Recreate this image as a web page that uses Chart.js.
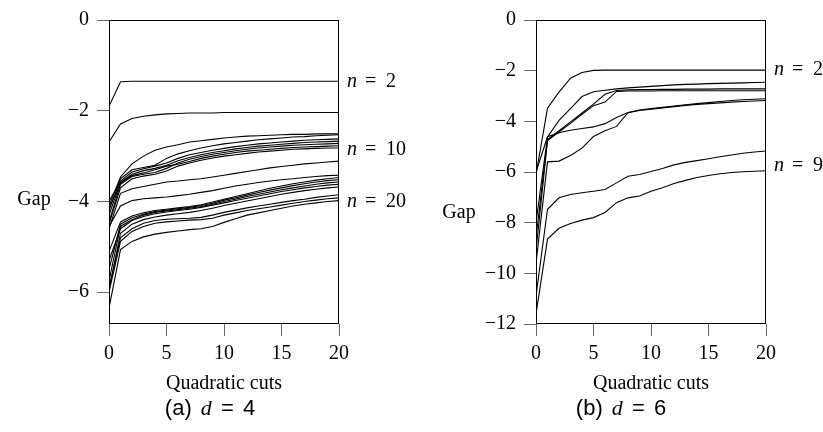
<!DOCTYPE html>
<html>
<head>
<meta charset="utf-8">
<script src="https://cdn.jsdelivr.net/npm/chart.js@4.4.1/dist/chart.umd.min.js"></script>
<style>
    body { margin: 0; background: #fff; width: 823px; height: 432px; position: relative; overflow: hidden; }
    .panel { position: absolute; top: 0; height: 432px; }
    .caption { position: absolute; top: 395px; width: 200px; text-align: center; white-space: nowrap; word-spacing: 3px;
               font: 22px "Liberation Sans Narrow", "Liberation Sans", sans-serif; color: #000; }
    .caption i { font-family: "Liberation Serif", serif; }
</style>
</head>
<body>
<div class="panel" style="left:0;width:412px"><canvas id="chartD4" width="412" height="432"></canvas></div>
<div class="panel" style="left:412px;width:411px"><canvas id="chartD6" width="411" height="432"></canvas></div>
<div class="caption" style="left:110px">(a) <i>d</i> = 4</div>
<div class="caption" style="left:521px">(b) <i>d</i> = 6</div>

<script>
// x values: number of quadratic cuts
const cuts = [0, 1, 2, 3, 4, 5, 6, 7, 8, 9, 10, 11, 12, 13, 14, 15, 16, 17, 18, 19, 20];
const xTicks = [0, 5, 10, 15, 20];

// (a) d = 4, gap per n
const d4n2  = [-1.9, -1.36, -1.35, -1.35, -1.35, -1.35, -1.35, -1.35, -1.35, -1.35, -1.35, -1.35, -1.35, -1.35, -1.35, -1.35, -1.35, -1.35, -1.35, -1.35, -1.35];
const d4n3  = [-2.69, -2.29, -2.17, -2.12, -2.09, -2.07, -2.06, -2.05, -2.05, -2.05, -2.04, -2.04, -2.04, -2.04, -2.04, -2.04, -2.04, -2.04, -2.04, -2.04, -2.04];
const d4n4  = [-4.1, -3.46, -3.17, -3.0, -2.87, -2.8, -2.75, -2.69, -2.66, -2.63, -2.6, -2.58, -2.56, -2.55, -2.54, -2.53, -2.52, -2.52, -2.51, -2.51, -2.51];
const d4n5  = [-4.2, -3.5, -3.3, -3.25, -3.2, -3.05, -2.95, -2.88, -2.82, -2.77, -2.73, -2.7, -2.67, -2.64, -2.62, -2.6, -2.58, -2.57, -2.55, -2.54, -2.53];
const d4n6  = [-4.0, -3.55, -3.35, -3.28, -3.22, -3.15, -3.05, -2.97, -2.92, -2.87, -2.83, -2.79, -2.76, -2.73, -2.71, -2.69, -2.67, -2.65, -2.64, -2.63, -2.62];
const d4n7  = [-4.3, -3.58, -3.4, -3.32, -3.27, -3.2, -3.1, -3.03, -2.97, -2.92, -2.88, -2.84, -2.81, -2.78, -2.76, -2.74, -2.72, -2.7, -2.69, -2.68, -2.67];
const d4n8  = [-4.45, -3.62, -3.45, -3.4, -3.36, -3.27, -3.15, -3.07, -3.01, -2.96, -2.92, -2.88, -2.85, -2.82, -2.8, -2.78, -2.76, -2.75, -2.74, -2.73, -2.72];
const d4n9  = [-4.15, -3.6, -3.43, -3.37, -3.3, -3.22, -3.18, -3.12, -3.05, -3.0, -2.96, -2.92, -2.89, -2.87, -2.85, -2.83, -2.81, -2.8, -2.79, -2.78, -2.77];
const d4n10 = [-4.5, -3.7, -3.5, -3.44, -3.4, -3.33, -3.22, -3.15, -3.09, -3.04, -3.0, -2.97, -2.94, -2.91, -2.89, -2.87, -2.85, -2.84, -2.83, -2.82, -2.82];
const d4n11 = [-4.6, -3.82, -3.72, -3.67, -3.62, -3.57, -3.55, -3.52, -3.5, -3.46, -3.42, -3.38, -3.34, -3.3, -3.26, -3.23, -3.2, -3.17, -3.15, -3.13, -3.11];
const d4n12 = [-4.55, -4.1, -3.98, -3.94, -3.92, -3.9, -3.87, -3.84, -3.8, -3.76, -3.71, -3.66, -3.62, -3.58, -3.55, -3.52, -3.5, -3.47, -3.45, -3.43, -3.42];
const d4n13 = [-5.1, -4.45, -4.32, -4.25, -4.2, -4.17, -4.14, -4.11, -4.07, -4.01, -3.95, -3.89, -3.83, -3.77, -3.71, -3.66, -3.61, -3.57, -3.53, -3.5, -3.47];
const d4n14 = [-5.5, -4.5, -4.36, -4.28, -4.22, -4.19, -4.16, -4.13, -4.09, -4.04, -3.97, -3.92, -3.86, -3.8, -3.75, -3.7, -3.65, -3.61, -3.57, -3.54, -3.52];
const d4n15 = [-5.75, -4.55, -4.4, -4.3, -4.24, -4.21, -4.18, -4.15, -4.11, -4.06, -4.0, -3.95, -3.89, -3.84, -3.79, -3.74, -3.7, -3.66, -3.62, -3.59, -3.57];
const d4n16 = [-5.3, -4.6, -4.42, -4.33, -4.27, -4.23, -4.2, -4.17, -4.13, -4.08, -4.03, -3.98, -3.93, -3.88, -3.83, -3.78, -3.74, -3.7, -3.67, -3.64, -3.62];
const d4n17 = [-5.95, -4.7, -4.5, -4.4, -4.34, -4.3, -4.27, -4.24, -4.2, -4.15, -4.09, -4.04, -3.99, -3.94, -3.89, -3.84, -3.8, -3.76, -3.73, -3.7, -3.68];
const d4n18 = [-5.9, -4.8, -4.6, -4.48, -4.42, -4.39, -4.38, -4.37, -4.35, -4.3, -4.24, -4.19, -4.14, -4.1, -4.06, -4.02, -3.98, -3.95, -3.91, -3.88, -3.85];
const d4n19 = [-6.0, -4.88, -4.66, -4.55, -4.48, -4.45, -4.43, -4.41, -4.4, -4.37, -4.3, -4.25, -4.2, -4.16, -4.12, -4.08, -4.04, -4.0, -3.97, -3.94, -3.92];
const d4n20 = [-6.35, -5.06, -4.88, -4.78, -4.72, -4.68, -4.65, -4.62, -4.6, -4.55, -4.46, -4.38, -4.3, -4.25, -4.2, -4.15, -4.1, -4.06, -4.03, -4.0, -3.98];
const d4YTicks = [0, -2, -4, -6];
const d4LabelN = [2, 10, 20];
const d4LabelY = [-1.35, -2.85, -4.0];

// (b) d = 6, gap per n
const d6n2 = [-6.1, -3.48, -2.85, -2.3, -2.07, -1.99, -1.98, -1.98, -1.98, -1.98, -1.98, -1.98, -1.98, -1.98, -1.98, -1.98, -1.98, -1.98, -1.98, -1.98, -1.98];
const d6n3 = [-8.0, -4.62, -3.96, -3.5, -3.02, -2.83, -2.77, -2.72, -2.68, -2.65, -2.62, -2.59, -2.56, -2.54, -2.53, -2.51, -2.5, -2.49, -2.48, -2.47, -2.46];
const d6n4 = [-8.6, -4.72, -4.37, -4.02, -3.67, -3.32, -2.93, -2.78, -2.76, -2.75, -2.75, -2.74, -2.74, -2.73, -2.73, -2.73, -2.72, -2.72, -2.72, -2.72, -2.72];
const d6n5 = [-9.1, -4.76, -4.42, -4.08, -3.72, -3.38, -3.24, -2.82, -2.8, -2.8, -2.8, -2.79, -2.79, -2.79, -2.79, -2.79, -2.79, -2.79, -2.79, -2.79, -2.79];
const d6n6 = [-6.0, -4.61, -4.45, -4.35, -4.28, -4.22, -4.09, -3.85, -3.65, -3.55, -3.5, -3.45, -3.4, -3.35, -3.3, -3.26, -3.22, -3.18, -3.15, -3.13, -3.11];
const d6n7 = [-9.6, -5.6, -5.57, -5.35, -5.06, -4.6, -4.37, -4.2, -3.66, -3.57, -3.52, -3.47, -3.42, -3.37, -3.33, -3.3, -3.27, -3.24, -3.22, -3.2, -3.18];
const d6n8 = [-10.9, -7.47, -7.02, -6.89, -6.82, -6.76, -6.69, -6.43, -6.17, -6.1, -5.98, -5.86, -5.72, -5.62, -5.55, -5.48, -5.4, -5.33, -5.26, -5.21, -5.17];
const d6n9 = [-11.6, -8.65, -8.22, -8.03, -7.9, -7.8, -7.6, -7.21, -7.02, -6.95, -6.76, -6.62, -6.45, -6.33, -6.22, -6.14, -6.07, -6.02, -5.99, -5.97, -5.95];
const d6YTicks = [0, -2, -4, -6, -8, -10, -12];
const d6LabelN = [2, 9];
const d6LabelY = [-1.98, -5.75];

const SERIF = '"Liberation Serif", "DejaVu Serif", serif';

function formatTick(v) {
    return v < 0 ? '\u2212' + Math.abs(v) : String(v);
}

// Box around plot area, axis titles and the n = ... labels
const decorPlugin = {
    id: 'decor',
    afterDraw(chart, args, opts) {
        const ctx = chart.ctx;
        const a = chart.chartArea;
        const yScale = chart.scales.y;
        ctx.save();
        ctx.strokeStyle = '#000';
        ctx.lineWidth = 1;
        const l = Math.round(a.left) + 0.5, t = Math.round(a.top) + 0.5;
        const r = Math.round(a.right) - 0.5, b = Math.round(a.bottom) - 0.5;
        ctx.strokeRect(l, t, r - l, b - t);

        ctx.fillStyle = '#000';
        ctx.font = '20px ' + SERIF;
        ctx.textBaseline = 'middle';
        ctx.textAlign = 'center';
        ctx.fillText('Gap', opts.gapX, opts.gapY);
        ctx.fillText('Quadratic cuts', (a.left + a.right) / 2, 384);

        ctx.textAlign = 'left';
        opts.labelN.forEach((n, i) => {
            const y = yScale.getPixelForValue(opts.labelY[i]);
            const x = a.right + 8;
            ctx.font = 'italic 20px ' + SERIF;
            ctx.fillText('n', x, y);
            ctx.font = '20px ' + SERIF;
            ctx.fillText('=', x + 18, y);
            ctx.fillText(String(n), x + 39, y);
        });
        ctx.restore();
    }
};

function buildChart(canvasId, seriesList, yMin, yTicks, axisWidth, rightPad, gapX, gapY, labelN, labelY) {
    const ctx = document.getElementById(canvasId);
    const datasets = seriesList.map(values => ({
        data: values.map((v, i) => ({ x: cuts[i], y: v })),
        borderColor: '#000',
        borderWidth: 1.1,
        pointRadius: 0,
        tension: 0,
        fill: false
    }));

    return new Chart(ctx, {
        type: 'line',
        data: { datasets },
        options: {
            responsive: false,
            animation: false,
            layout: { padding: { left: 0, top: 17, right: rightPad, bottom: 0 } },
            plugins: {
                legend: { display: false },
                tooltip: { enabled: false },
                decor: { gapX, gapY, labelN, labelY }
            },
            scales: {
                x: {
                    type: 'linear',
                    min: 0,
                    max: 20,
                    afterFit: s => { s.height = 108; },
                    afterBuildTicks: s => { s.ticks = xTicks.map(v => ({ value: v })); },
                    grid: { drawOnChartArea: false, tickLength: 12, color: '#666' },
                    border: { display: false },
                    ticks: { padding: 6, color: '#000', maxRotation: 0, font: { family: SERIF, size: 20 }, callback: formatTick }
                },
                y: {
                    type: 'linear',
                    min: yMin,
                    max: 0,
                    afterFit: s => { s.width = axisWidth; },
                    afterBuildTicks: s => { s.ticks = yTicks.map(v => ({ value: v })); },
                    grid: { drawOnChartArea: false, tickLength: 12, color: '#666' },
                    border: { display: false },
                    ticks: { padding: 8, color: '#000', font: { family: SERIF, size: 20 }, callback: formatTick }
                }
            }
        },
        plugins: [decorPlugin]
    });
}

document.addEventListener('DOMContentLoaded', function() {
    buildChart('chartD4',
        [d4n2, d4n3, d4n4, d4n5, d4n6, d4n7, d4n8, d4n9, d4n10, d4n11,
         d4n12, d4n13, d4n14, d4n15, d4n16, d4n17, d4n18, d4n19, d4n20],
        -6.7, d4YTicks, 109, 73, 34, 200, d4LabelN, d4LabelY);

    buildChart('chartD6',
        [d6n2, d6n3, d6n4, d6n5, d6n6, d6n7, d6n8, d6n9],
        -12, d6YTicks, 124, 57, 47, 213, d6LabelN, d6LabelY);
});
</script>
</body>
</html>
